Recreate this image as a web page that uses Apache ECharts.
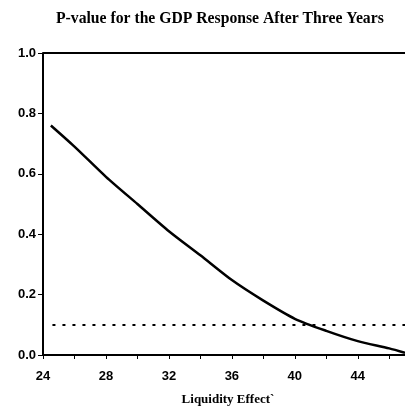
<!DOCTYPE html>
<html><head><meta charset="utf-8">
<script src="https://cdn.jsdelivr.net/npm/echarts@6/dist/echarts.min.js"></script>
<style>html,body{margin:0;padding:0;background:#fff}#c{width:405px;height:406px}</style>
</head><body><div id="c"></div>
<script>
const liquidity = [24.5, 26, 28, 30, 32, 34, 36, 38, 40, 42, 44, 46, 47];
const pValue = [0.76, 0.69, 0.59, 0.50, 0.41, 0.33, 0.248, 0.18, 0.12, 0.08, 0.046, 0.022, 0.007];
const threshold = 0.1;
const upperLine = 1.0;
const titleText = 'P-value for the GDP Response After Three Years';
const xName = 'Liquidity Effect`';

const chart = echarts.init(document.getElementById('c'));
chart.setOption({
  animation: false,
  backgroundColor: '#fff',
  title: {
    text: titleText, left: 51, top: 6,
    textStyle: {fontFamily: 'Liberation Serif', fontWeight: 'bold', fontSize: 15.7, color: '#000'}
  },
  grid: {left: 43, right: 0, top: 53, bottom: 51, containLabel: false, outerBoundsMode: 'none'},
  xAxis: {
    type: 'value', min: 24, max: 47, interval: 2,
    name: xName, nameLocation: 'middle', nameGap: 38,
    nameTextStyle: {fontFamily: 'Liberation Serif', fontWeight: 'bold', fontSize: 13, color: '#000', padding: [0, 0, 0, 8]},
    axisLine: {onZero: false, lineStyle: {color: '#000', width: 2}},
    axisTick: {show: true, inside: false, length: 4, lineStyle: {color: '#000', width: 1}},
    axisLabel: {
      showMaxLabel: false, margin: 15,
      fontFamily: 'Liberation Sans', fontWeight: 'bold', fontSize: 13, color: '#000',
      formatter: v => (v % 4 === 0 ? String(v) : '')
    },
    splitLine: {show: false}
  },
  yAxis: {
    type: 'value', min: 0, max: 1, interval: 0.2,
    axisLine: {show: true, lineStyle: {color: '#000', width: 2}},
    axisTick: {show: true, length: 5, lineStyle: {color: '#000', width: 1}},
    axisLabel: {
      margin: 7, fontFamily: 'Liberation Sans', fontWeight: 'bold', fontSize: 13, color: '#000',
      formatter: v => v.toFixed(1)
    },
    splitLine: {show: false}
  },
  series: [{
    type: 'line', smooth: 0.25, symbol: 'none',
    data: liquidity.map((x, i) => [x, pValue[i]]),
    lineStyle: {color: '#000', width: 2.5},
    markLine: {
      silent: true, symbol: 'none', label: {show: false},
      data: [
        [{coord: [24.6, threshold]}, {coord: [47, threshold]}],
        {yAxis: upperLine, lineStyle: {color: '#000', width: 2, type: 'solid'}}
      ],
      lineStyle: {color: '#000', width: 2, type: [3, 7]}
    }
  }]
});
</script></body></html>
